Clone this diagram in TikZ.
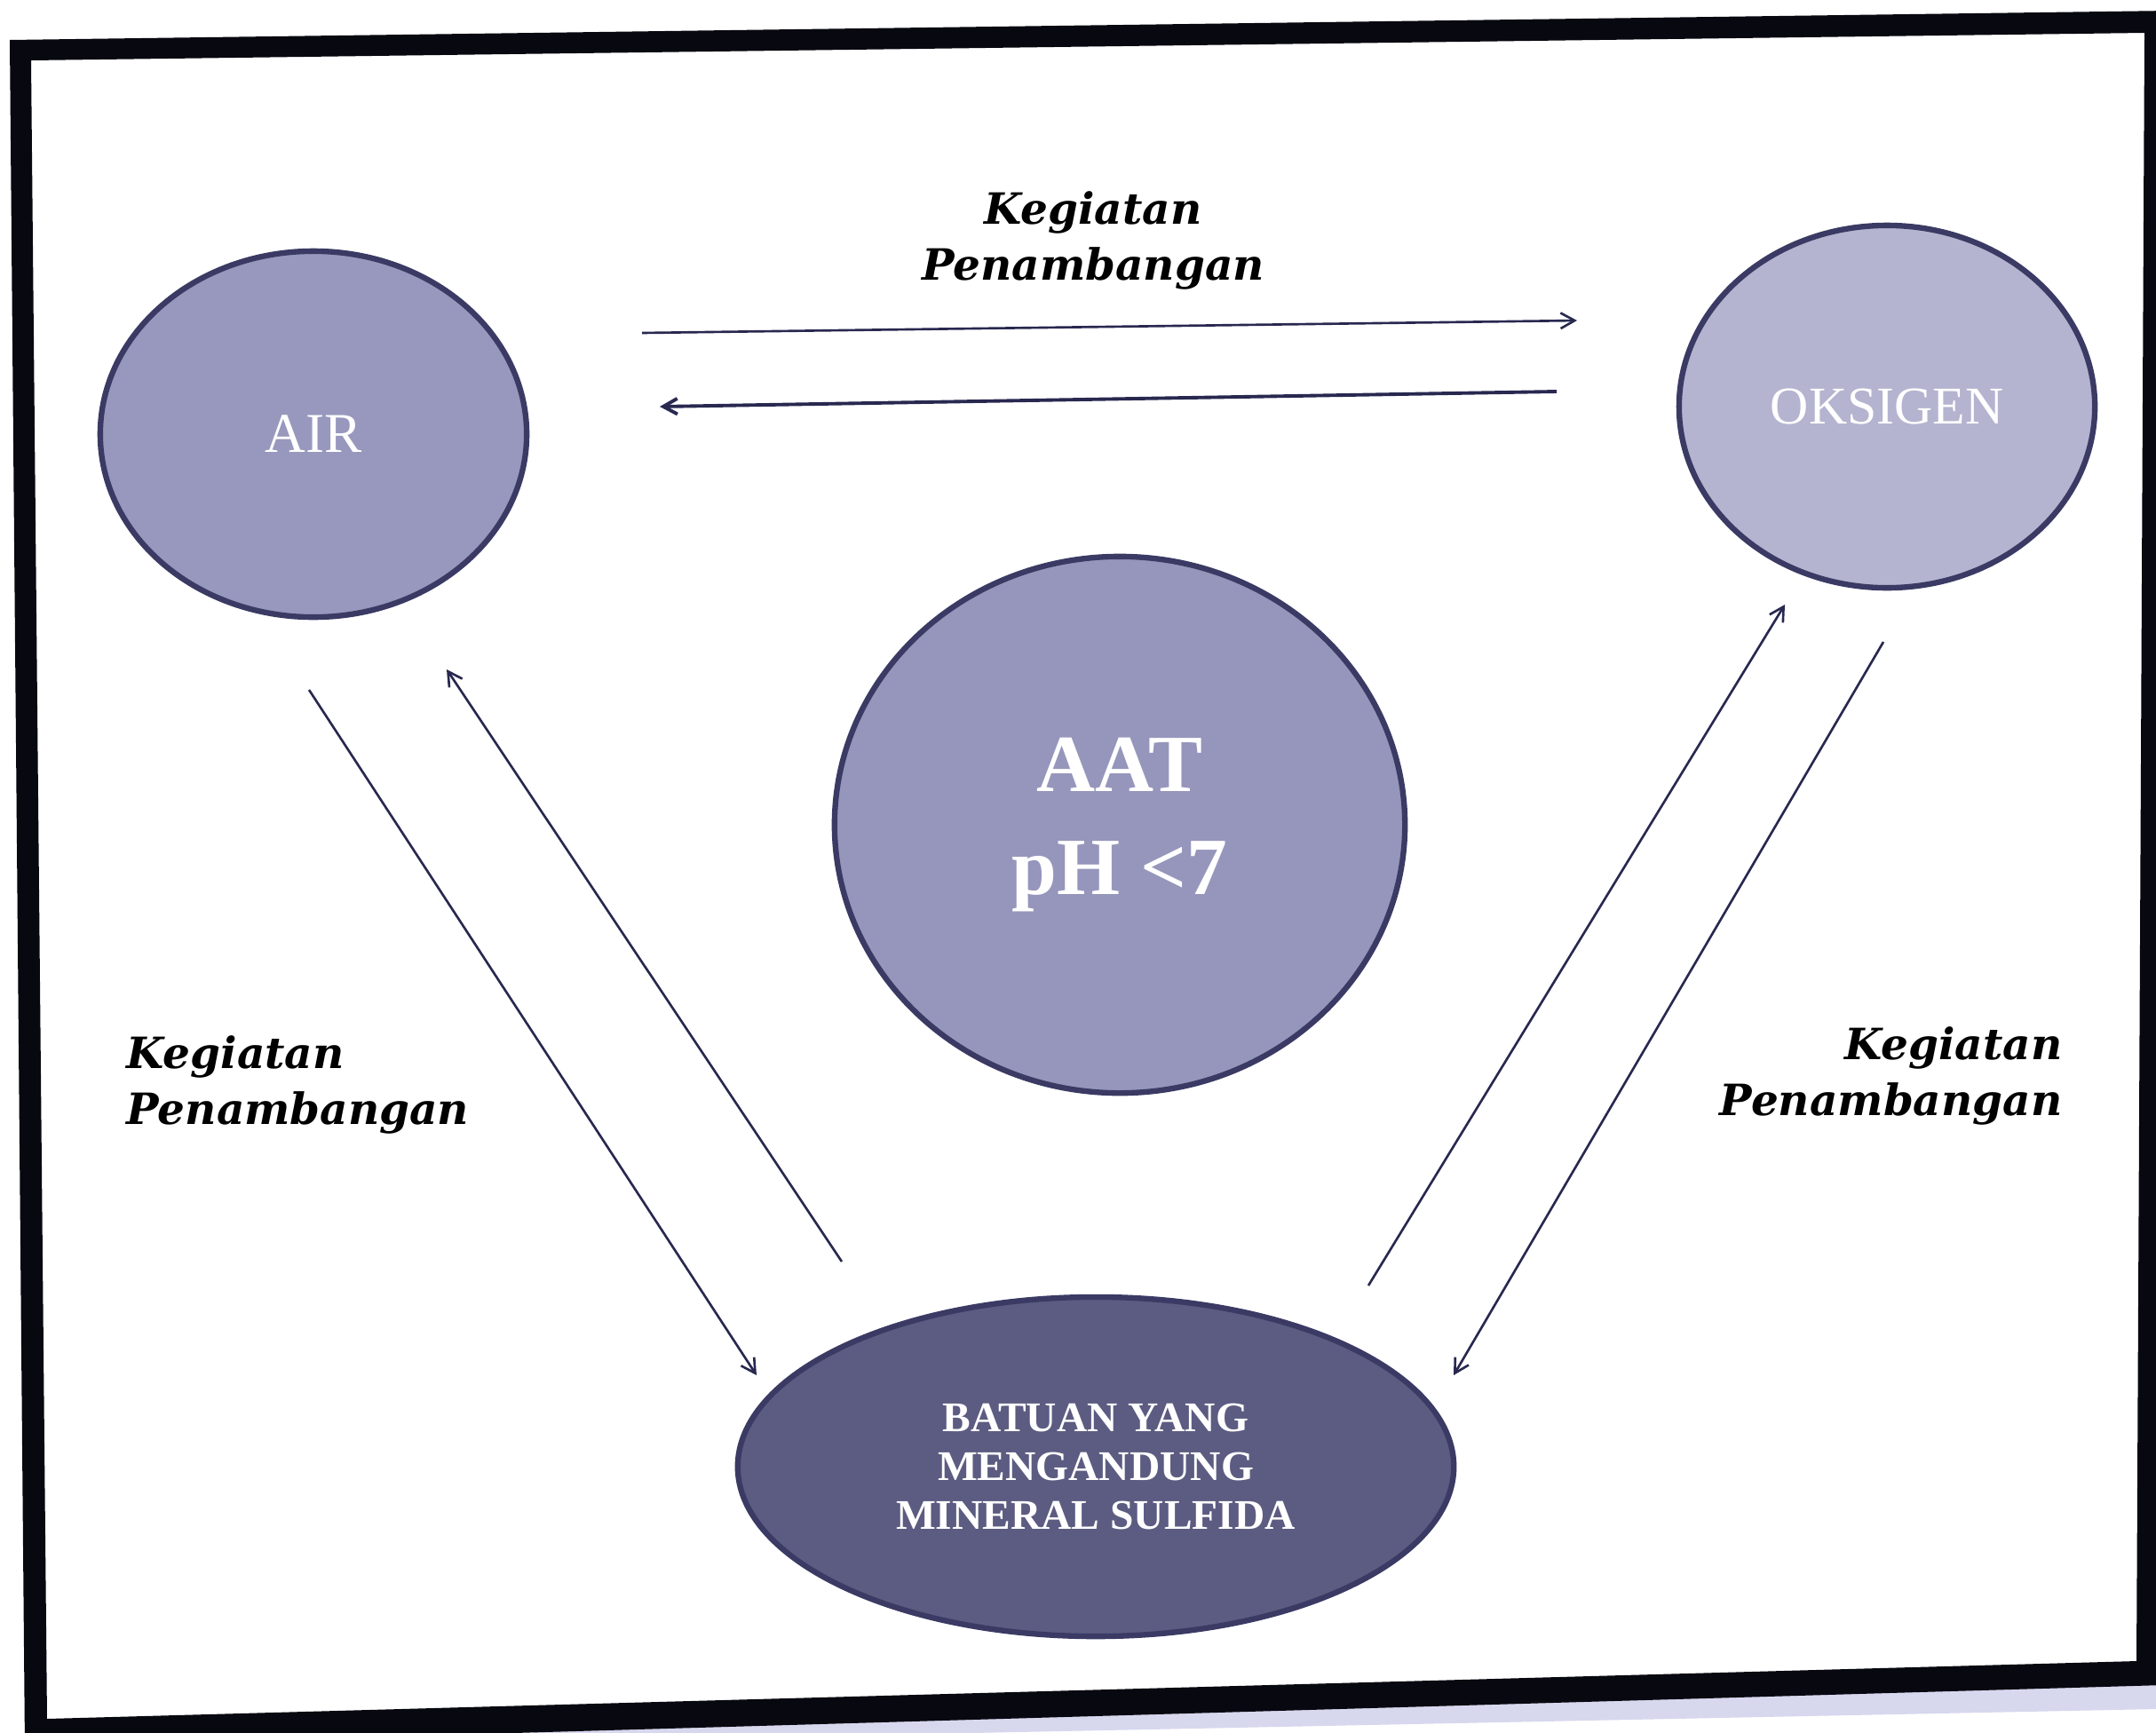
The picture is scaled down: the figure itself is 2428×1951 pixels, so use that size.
\documentclass[tikz,border=0pt]{standalone}
\usepackage{fontspec}
\setmainfont{Liberation Serif}
\newfontfamily\lblfont{DejaVu Serif}
\usetikzlibrary{shapes.geometric,arrows.meta}
\definecolor{framec}{RGB}{8,8,16}
\definecolor{airc}{RGB}{152,152,190}
\definecolor{oksc}{RGB}{180,180,208}
\definecolor{aatc}{RGB}{150,150,188}
\definecolor{batc}{RGB}{92,92,130}
\definecolor{rimc}{RGB}{58,58,100}
\definecolor{arrc}{RGB}{40,40,80}
\definecolor{noisec}{RGB}{215,215,238}
\begin{document}
\begin{tikzpicture}[x=0.01cm,y=-0.01cm,
  blob/.style={ellipse, inner sep=0pt, draw=rimc, line width=1.8pt, text=white, align=center},
  lbl/.style={font=\lblfont\bfseries\itshape\fontsize{13.8}{17.8}\selectfont, inner sep=0pt},
  arr/.style={draw=arrc, line width=0.75pt, -{Straight Barb[length=4.5pt,width=5pt]}}]
\clip (0,0) rectangle (2428,1951);
\fill[white] (0,0) rectangle (2428,1951);
% scan strip below the frame
\fill[noisec] (600,1935) -- (2428,1895) -- (2428,1925) -- (600,1962) -- cycle;
% frame
\fill[framec, even odd rule] (11,45) -- (2445,12) -- (2436,1898) -- (28,1968) -- cycle
   (35,68) -- (2415,37) -- (2406,1871) -- (53,1936) -- cycle;

% nodes
\node[blob, fill=airc, minimum width=4.8cm, minimum height=4.12cm,
      font=\fontsize{18}{20}\selectfont] (air) at (353,489) {AIR};
\node[blob, fill=oksc, minimum width=4.68cm, minimum height=4.08cm,
      font=\fontsize{17}{20}\selectfont] (oks) at (2125,458) {OKSIGEN};
\node[blob, fill=aatc, minimum width=6.42cm, minimum height=6.04cm,
      font=\bfseries\fontsize{26}{33}\selectfont] (aat) at (1261,929) {AAT\\pH <7};
\node[blob, fill=batc, minimum width=8.06cm, minimum height=3.82cm,
      font=\bfseries\fontsize{13.5}{15.6}\selectfont] (bat) at (1234,1652)
      {BATUAN YANG\\MENGANDUNG\\MINERAL SULFIDA};

% connector end points
\coordinate (a1s) at (723,375);  \coordinate (a1e) at (1776,361);
\coordinate (a2s) at (1753,441); \coordinate (a2e) at (743,458);
\coordinate (a3s) at (348,777);  \coordinate (a3e) at (852,1549);
\coordinate (a4s) at (948,1421); \coordinate (a4e) at (503,754);
\coordinate (a5s) at (1541,1448);\coordinate (a5e) at (2010,681);
\coordinate (a6s) at (2121,723); \coordinate (a6e) at (1637,1549);

\draw[arr] (a1s) -- (a1e);
\draw[arr, line width=1.1pt] (a2s) -- (a2e);
\draw[arr] (a3s) -- (a3e);
\draw[arr] (a4s) -- (a4e);
\draw[arr] (a5s) -- (a5e);
\draw[arr] (a6s) -- (a6e);

% labels
\node[lbl, align=center] (ltop) at (1231,271) {Kegiatan\\Penambangan};
\node[lbl, align=left, anchor=west] (lleft) at (142,1222) {Kegiatan\\Penambangan};
\node[lbl, align=right, anchor=east] (lright) at (2323,1212) {Kegiatan\\Penambangan};
\end{tikzpicture}
\end{document}
